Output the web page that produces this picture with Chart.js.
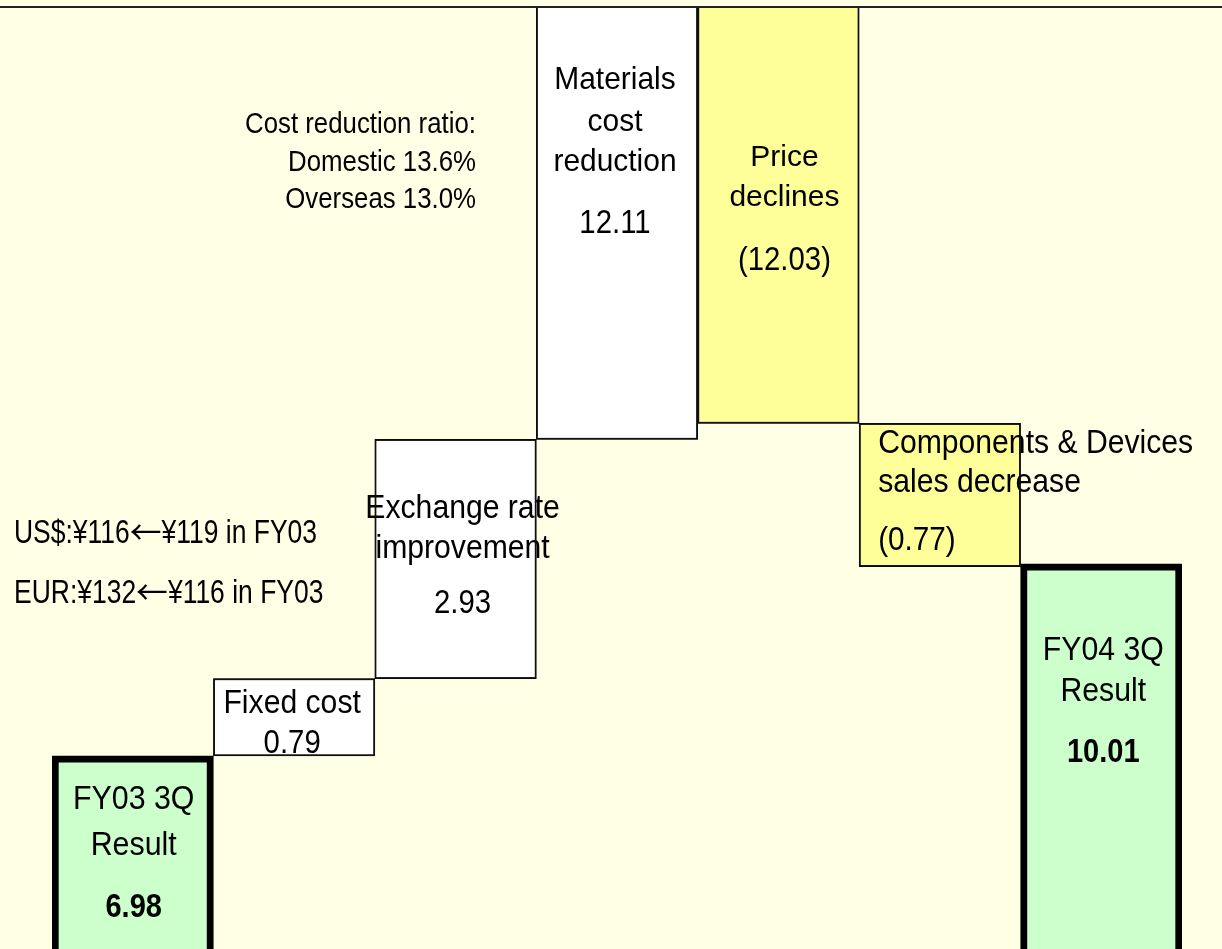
<!DOCTYPE html>
<html>
<head>
<meta charset="utf-8">
<title>FY04 3Q operating income change</title>
<script src="https://cdn.jsdelivr.net/npm/chart.js@4/dist/chart.umd.min.js"></script>
<style>
  html, body { margin: 0; padding: 0; background: #FFFFE6; }
  #wrap { width: 1222px; height: 949px; }
</style>
</head>
<body>
<div id="wrap"><canvas id="chart" width="1222" height="949"></canvas></div>
<script>
// ── Data ──
const categories = [
  ['FY03 3Q', 'Result'],
  ['Fixed cost'],
  ['Exchange rate', 'improvement'],
  ['Materials', 'cost', 'reduction'],
  ['Price', 'declines'],
  ['Components & Devices', 'sales decrease'],
  ['FY04 3Q', 'Result']
];
const amounts = ['6.98', '0.79', '2.93', '12.11', '(12.03)', '(0.77)', '10.01'];

// the original diagram is not drawn to scale, so blocks use the levels
// as drawn (0 = bottom of the picture, 100 = top rule)
const blockLow  = [-10, 20.5, 28.7, 54.1, 55.8, 40.6, -10];
const blockHigh = [20.5, 28.7, 54.1, 110, 110, 55.8, 40.9];

const costNote = ['Cost reduction ratio:', 'Domestic 13.6%', 'Overseas 13.0%'];
const fxNote = ['US$:¥116←¥119 in FY03', 'EUR:¥132←¥116 in FY03'];

// ── Styles ──
const BG = '#FFFFE6';
const fills = ['#CCFFCC', '#FFFFFF', '#FFFFFF', '#FFFFFF', '#FFFF99', '#FFFF99', '#CCFFCC'];
const borders = [7, 1.5, 1.5, 1.5, 1.5, 1.5, 7];
const FONT = '"Liberation Sans", Arial, sans-serif';
const CJK = '"Noto Sans CJK JP", "Noto Sans CJK SC", sans-serif';

// text placement per block: baselines (px), horizontal offset from bar centre
const labelLayout = [
  { dx: 1,   lines: [809, 855],      amt: 917, size: 33,   sx: 0.92, bold: true },
  { dx: -2,  lines: [713],           amt: 753, size: 33.5, sx: 0.9 },
  { dx: 7,   lines: [518, 558],      amt: 613, size: 33.5, sx: 0.9 },
  { dx: -2,  lines: [89, 131, 171],  amt: 233, size: 31.5, sx: 0.95 },
  { dx: 6,   lines: [166, 206],      amt: 270, size: 30,   sx: 1.0 },
  { left: 19, lines: [453, 492],     amt: 550, size: 33.5, sx: 0.9 },
  { dx: 2,   lines: [660, 701],      amt: 762, size: 32.5, sx: 0.93, bold: true }
];

function txt(ctx, s, x, y, size, sx, align, bold) {
  ctx.save();
  ctx.translate(x, y);
  ctx.scale(sx, 1);
  ctx.font = (bold ? 'bold ' : '') + size + 'px ' + FONT;
  ctx.textAlign = align;
  ctx.textBaseline = 'alphabetic';
  ctx.fillStyle = '#000';
  ctx.fillText(s, 0, 0);
  ctx.restore();
}

// left-aligned text whose arrow is set in the wide CJK glyph
function txtArrow(ctx, s, x, y, size, sx) {
  let cx = x;
  s.split('←').forEach((part, k) => {
    if (k > 0) {
      ctx.save();
      ctx.font = size * 0.95 + 'px ' + CJK;
      ctx.textAlign = 'left';
      ctx.textBaseline = 'alphabetic';
      ctx.fillStyle = '#000';
      ctx.fillText('←', cx, y + 1);
      cx += ctx.measureText('←').width;
      ctx.restore();
    }
    txt(ctx, part, cx, y, size, sx, 'left');
    ctx.save();
    ctx.font = size + 'px ' + FONT;
    cx += ctx.measureText(part).width * sx;
    ctx.restore();
  });
}

const backdrop = {
  id: 'backdrop',
  beforeDraw(chart) {
    const ctx = chart.ctx;
    ctx.save();
    ctx.fillStyle = BG;
    ctx.fillRect(0, 0, chart.width, chart.height);
    ctx.restore();
  }
};

const labels = {
  id: 'labels',
  afterDatasetsDraw(chart) {
    const ctx = chart.ctx;
    const area = chart.chartArea;
    const bars = chart.getDatasetMeta(0).data;

    // text inside / beside each block
    bars.forEach((bar, i) => {
      const L = labelLayout[i];
      const { x, width } = bar.getProps(['x', 'width'], true);
      if (L.left != null) {
        const lx = x - width / 2 + L.left;
        categories[i].forEach((s, k) => txt(ctx, s, lx, L.lines[k], L.size, L.sx, 'left'));
        txt(ctx, amounts[i], lx, L.amt, 33, 0.9, 'left');
      } else {
        const cx = x + L.dx;
        categories[i].forEach((s, k) => txt(ctx, s, cx, L.lines[k], L.size, L.sx, 'center'));
        txt(ctx, amounts[i], cx, L.amt, 33, L.bold ? 0.88 : 0.89, 'center', L.bold);
      }
    });

    // free notes
    costNote.forEach((s, k) => txt(ctx, s, 476, [133, 171, 208][k], 29, 0.89, 'right'));
    fxNote.forEach((s, k) => txtArrow(ctx, s, 14, [543, 603][k], 33.5, 0.79));

    // thin outlines sit on top of the overflowing text
    ctx.save();
    ctx.beginPath();
    ctx.rect(area.left - 1, area.top, area.right - area.left + 2, area.bottom - area.top);
    ctx.clip();
    ctx.strokeStyle = '#111';
    ctx.lineWidth = 1.5;
    bars.forEach((bar, i) => {
      if (borders[i] > 2) return;
      const { x, y, base, width } = bar.getProps(['x', 'y', 'base', 'width'], true);
      const top = Math.min(y, base), bot = Math.max(y, base);
      ctx.strokeRect(x - width / 2 + 0.75, top + 0.75, width - 1.5, bot - top - 1.5);
    });
    ctx.restore();

    // top rule
    ctx.save();
    ctx.strokeStyle = '#222';
    ctx.lineWidth = 2;
    ctx.beginPath();
    ctx.moveTo(0, area.top);
    ctx.lineTo(chart.width, area.top);
    ctx.stroke();
    ctx.restore();
  }
};

new Chart(document.getElementById('chart'), {
  type: 'bar',
  data: {
    labels: categories,
    datasets: [{
      data: blockLow.map((lo, i) => [lo, blockHigh[i]]),
      backgroundColor: fills,
      borderColor: '#000',
      borderWidth: borders,
      borderSkipped: false,
      categoryPercentage: 1,
      barPercentage: 1,
      clip: 0
    }]
  },
  options: {
    responsive: false,
    animation: false,
    devicePixelRatio: 1,
    layout: { padding: { top: 7, left: 52, right: 40, bottom: 0 } },
    plugins: { legend: { display: false }, tooltip: { enabled: false } },
    scales: {
      x: { display: false },
      y: { display: false, min: 0, max: 100 }
    }
  },
  plugins: [backdrop, labels]
});
</script>
</body>
</html>
